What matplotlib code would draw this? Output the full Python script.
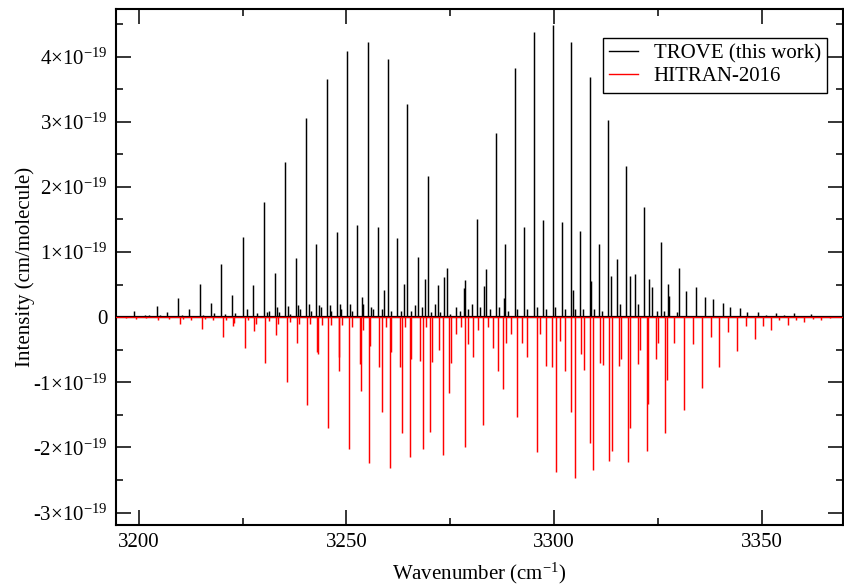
import numpy as np
import matplotlib
matplotlib.use("Agg")
import matplotlib.pyplot as plt
from matplotlib.ticker import MultipleLocator

# -------------------------------
# Data (intensities in units of 1e-19 cm/molecule)
# -------------------------------

trove_wn = [
    3196.5, 3198.9, 3201.6, 3202.5, 3204.3, 3205.2, 3206.9, 3209.5, 3210.4, 3212.0,
    3214.7, 3215.5, 3217.3, 3218.1, 3219.9, 3220.8, 3222.4, 3223.2, 3225.1, 3226.1,
    3227.6, 3228.5, 3230.1, 3230.9, 3231.3, 3232.7, 3233.3, 3233.8, 3235.2, 3236.0,
    3236.5, 3237.8, 3238.4, 3238.8, 3240.2, 3241.0, 3241.4, 3242.7, 3243.4, 3243.8,
    3245.2, 3246.0, 3246.4, 3247.7, 3248.4, 3248.8, 3250.1, 3250.8, 3251.3, 3252.6,
    3253.7, 3254.1, 3255.1, 3255.8, 3256.3, 3257.5, 3258.5, 3259.0, 3259.9, 3260.7,
    3262.3, 3263.2, 3263.9, 3264.7, 3265.5, 3266.6, 3267.2, 3268.2, 3268.9, 3269.6,
    3270.3, 3271.3, 3272.0, 3272.6, 3273.6, 3274.3, 3275.0, 3276.5, 3277.3, 3278.3,
    3278.6, 3279.2, 3280.3, 3281.4, 3282.2, 3283.2, 3283.6, 3284.6, 3286.0, 3286.7,
    3287.9, 3288.3, 3289.0, 3290.5, 3291.2, 3292.8, 3293.5, 3295.1, 3295.8, 3297.3,
    3298.0, 3299.7, 3300.3, 3301.9, 3302.6, 3304.1, 3304.5, 3305.0, 3306.3, 3307.0,
    3308.6, 3308.9, 3309.6, 3310.8, 3311.6, 3313.0, 3313.7, 3315.1, 3316.0, 3317.3,
    3318.3, 3319.4, 3320.3, 3321.6, 3322.9, 3323.7, 3324.8, 3325.7, 3326.4, 3327.4,
    3327.8, 3329.6, 3330.1, 3331.9, 3334.2, 3336.4, 3338.2, 3340.7, 3342.4, 3344.8,
    3346.4, 3349.2, 3351.0, 3353.5, 3355.5, 3357.7, 3359.8, 3361.9, 3364.0,
]
trove_int = [
    0.02, 0.09, 0.04, 0.04, 0.17, 0.03, 0.08, 0.30, 0.04, 0.13,
    0.51, 0.04, 0.22, 0.06, 0.81, 0.05, 0.34, 0.06, 1.23, 0.13,
    0.50, 0.06, 1.77, 0.08, 0.09, 0.68, 0.15, 0.08, 2.38, 0.17,
    0.05, 0.91, 0.18, 0.13, 3.05, 0.20, 0.10, 1.13, 0.18, 0.15,
    3.66, 0.19, 0.10, 1.30, 0.20, 0.13, 4.09, 0.20, 0.10, 1.41,
    0.31, 0.20, 4.23, 0.15, 0.12, 1.38, 0.13, 0.42, 3.96, 0.10,
    1.22, 0.10, 0.51, 3.27, 0.10, 0.18, 0.92, 0.15, 0.58, 2.16,
    0.08, 0.20, 0.50, 0.08, 0.61, 0.76, 0.05, 0.15, 0.10, 0.45,
    0.57, 0.12, 0.20, 1.51, 0.15, 0.48, 0.74, 0.12, 2.83, 0.15,
    0.30, 1.13, 0.10, 3.82, 0.13, 1.38, 0.12, 4.38, 0.15, 1.49,
    0.12, 4.49, 0.15, 1.46, 0.12, 4.23, 0.42, 0.12, 1.32, 0.12,
    3.69, 0.56, 0.12, 1.12, 0.10, 3.02, 0.63, 0.89, 0.20, 2.32,
    0.63, 0.66, 0.20, 1.69, 0.59, 0.47, 0.10, 1.16, 0.10, 0.51,
    0.32, 0.08, 0.76, 0.40, 0.47, 0.31, 0.28, 0.21, 0.15, 0.14,
    0.08, 0.08, 0.03, 0.06, 0.03, 0.06, 0.02, 0.05, 0.02,
]

hitran_wn = [
    3197.0, 3199.2, 3201.8, 3204.7, 3207.2, 3209.9, 3210.6, 3212.5, 3215.1, 3216.0,
    3217.8, 3220.2, 3221.0, 3222.7, 3223.0, 3225.5, 3226.3, 3227.8, 3228.2, 3230.5,
    3231.3, 3233.0, 3233.5, 3235.6, 3236.3, 3238.1, 3238.6, 3240.6, 3241.3, 3243.0,
    3243.2, 3244.0, 3245.6, 3246.3, 3248.1, 3248.3, 3249.0, 3250.6, 3251.3, 3253.2,
    3253.5, 3254.0, 3255.4, 3255.7, 3257.9, 3258.5, 3259.5, 3260.4, 3260.7, 3262.8,
    3263.5, 3264.2, 3265.3, 3265.6, 3267.7, 3268.4, 3269.2, 3270.1, 3270.5, 3272.4,
    3273.3, 3274.7, 3275.2, 3276.4, 3277.6, 3278.6, 3279.4, 3280.6, 3281.6, 3283.0,
    3284.0, 3285.3, 3286.4, 3287.7, 3288.4, 3289.6, 3291.2, 3292.2, 3293.5, 3295.8,
    3296.7, 3298.1, 3299.5, 3300.5, 3301.4, 3302.7, 3304.1, 3305.0, 3306.4, 3307.2,
    3308.7, 3309.5, 3311.1, 3311.8, 3313.3, 3314.0, 3315.7, 3316.1, 3317.8, 3318.3,
    3320.2, 3320.6, 3322.3, 3322.7, 3324.6, 3325.0, 3326.8, 3327.2, 3329.0, 3331.2,
    3333.4, 3335.6, 3337.7, 3339.8, 3341.9, 3344.0, 3346.2, 3348.3, 3350.3, 3352.3,
    3354.3, 3356.3, 3358.3, 3360.2, 3362.3, 3364.3, 3366.5,
]
hitran_int = [
    0.02, 0.03, 0.02, 0.05, 0.03, 0.10, 0.03, 0.05, 0.18, 0.03,
    0.05, 0.30, 0.05, 0.13, 0.09, 0.48, 0.05, 0.21, 0.10, 0.71,
    0.06, 0.28, 0.10, 1.00, 0.08, 0.39, 0.10, 1.35, 0.10, 0.53,
    0.56, 0.12, 1.70, 0.12, 0.61, 0.82, 0.12, 2.03, 0.15, 0.72,
    1.13, 0.20, 2.24, 0.44, 0.77, 1.46, 0.15, 2.31, 0.54, 0.76,
    1.78, 0.15, 2.15, 0.64, 0.67, 2.02, 0.15, 1.77, 0.69, 0.50,
    2.12, 1.17, 0.70, 0.26, 0.15, 2.00, 0.41, 0.61, 0.20, 1.66,
    0.15, 0.48, 0.82, 1.10, 0.39, 0.26, 1.53, 0.39, 0.61, 2.07,
    0.26, 0.75, 0.77, 2.38, 0.37, 0.82, 1.45, 2.47, 0.57, 0.81,
    1.93, 2.34, 0.70, 0.74, 2.20, 2.06, 0.75, 0.64, 2.23, 1.70,
    0.72, 0.51, 2.06, 1.33, 0.64, 0.39, 1.78, 0.97, 0.39, 1.43,
    0.41, 1.08, 0.31, 0.77, 0.22, 0.52, 0.13, 0.33, 0.13, 0.20,
    0.05, 0.12, 0.04, 0.08, 0.03, 0.05, 0.02,
]

x_ticks = [3200, 3250, 3300, 3350]
y_ticks = [-3, -2, -1, 0, 1, 2, 3, 4]
y_labels = ["-3\u00d710$^{-19}$", "-2\u00d710$^{-19}$", "-1\u00d710$^{-19}$", "0",
            "1\u00d710$^{-19}$", "2\u00d710$^{-19}$", "3\u00d710$^{-19}$", "4\u00d710$^{-19}$"]

SCALE = 1e-19

# -------------------------------
# Style
# -------------------------------

plt.rcParams["font.family"] = ["Liberation Serif", "DejaVu Serif"]
plt.rcParams["mathtext.fontset"] = "custom"
plt.rcParams["mathtext.rm"] = "Liberation Serif"
plt.rcParams["mathtext.it"] = "Liberation Serif:italic"
plt.rcParams["font.size"] = 15

fig = plt.figure(figsize=(8.44, 5.85), dpi=100)
ax = fig.add_axes([116 / 844, 60 / 585, 727 / 844, 516 / 585])

# -------------------------------
# Plot spectra
# -------------------------------

tw = np.array(trove_wn)
ti = np.array(trove_int) * SCALE
hw = np.array(hitran_wn)
hi = np.array(hitran_int) * SCALE

ax.axhline(0, color="black", lw=1.6, zorder=1)
ax.vlines(tw, 0, ti, color="black", lw=1.05, zorder=2)
ax.vlines(hw, -hi, 0, color="red", lw=1.05, zorder=3)
ax.axhline(0, color="red", lw=0.9, zorder=3)

ax.plot([], [], color="black", lw=1.0, label="TROVE (this work)")
ax.plot([], [], color="red", lw=1.0, label="HITRAN-2016")

# -------------------------------
# Axes
# -------------------------------

ax.set_xlim(3194.5, 3369.6)
ax.set_ylim(-3.19e-19, 4.73e-19)

ax.set_xticks(x_ticks)
ax.xaxis.set_minor_locator(MultipleLocator(25))
ax.set_yticks([v * SCALE for v in y_ticks])
ax.set_yticklabels(y_labels)
ax.yaxis.set_minor_locator(MultipleLocator(0.5e-19))

ax.tick_params(which="both", direction="in", top=True, right=True, width=1.1, labelsize=15)
ax.tick_params(which="major", length=10.5, pad=6)
ax.tick_params(which="minor", length=5)
for s in ax.spines.values():
    s.set_linewidth(1.5)

ax.set_xlabel("Wavenumber (cm$^{-1}$)", fontsize=15, labelpad=6)
ax.set_ylabel("Intensity (cm/molecule)", fontsize=15, labelpad=-1)

leg = ax.legend(loc="upper right", bbox_to_anchor=(0.978, 0.944), borderaxespad=0,
                fancybox=False, edgecolor="black", framealpha=1, fontsize=15,
                handlelength=1.4, handletextpad=0.75, borderpad=0.3, labelspacing=0.15)
leg.get_frame().set_linewidth(1.0)

fig.savefig("out.png", dpi=100)
